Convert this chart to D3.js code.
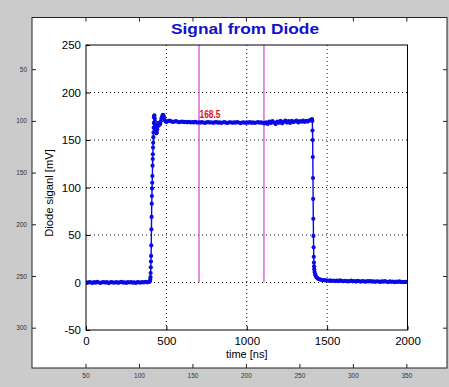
<!DOCTYPE html>
<html>
<head>
<meta charset="utf-8">
<script src="https://cdn.jsdelivr.net/npm/d3@7"></script>
<style>
  html, body { margin: 0; padding: 0; background: #cbcbcb; }
  svg { display: block; font-family: "Liberation Sans", Arial, sans-serif; }
</style>
</head>
<body>
<div id="chart"></div>

<script>
// samples as [time ns, signal mV]
const baselineSamples = [
  [0,0.2],[10,-0.3],[20,0.4],[30,0.1],[40,-0.5],[50,0.3],[60,-0.2],[70,0.6],[80,0.0],[90,-0.4],
  [100,0.2],[110,0.5],[120,-0.1],[130,0.3],[140,-0.6],[150,0.1],[160,0.4],[170,-0.2],[180,0.0],[190,0.3],
  [200,-0.3],[210,0.2],[220,0.6],[230,-0.1],[240,0.1],[250,-0.4],[260,0.3],[270,0.0],[280,0.5],[290,-0.2],
  [300,0.2],[310,-0.5],[320,0.4],[330,0.1],[340,-0.1],[350,0.3],[360,0.0],[370,0.6],[380,0.2],[390,0.5],
  [395,0.8],[398,1.5]
];
const riseSamples = [
  [400,3],[401,5.6],[402,10],[403,16],[404,22],[405,28],[406,39],[407,56],[408,69],[409,83],
  [410,91],[411,99],[412,105],[413,112],[414,123],[415,130],[416,135],[417,142],[418,147],[419,153],
  [420,158],[421,163],[422,168],[423,174],[425,176],[427,173],[429,170],[431,166],[433,162],[435,159],
  [437,157],[440,158],[443,161],[446,164],[449,167],[452,168],[455,167],[458,166],[462,167],[466,170],
  [470,173],[474,175],[478,176.5],[482,176],[486,173.5],[490,171],[495,169.5],[500,169]
];
const plateauSamples = [
  [510,169.8],[520,170.3],[530,169.6],[540,169.0],[550,169.4],[560,169.9],[570,169.2],[580,168.7],[590,169.1],[600,169.5],
  [610,168.8],[620,169.2],[630,168.6],[640,169.0],[650,168.4],[660,168.9],[670,168.5],[680,169.1],[690,168.3],[700,168.7],
  [710,168.2],[720,168.8],[730,168.4],[740,168.0],[750,168.6],[760,168.9],[770,168.3],[780,168.7],[790,168.1],[800,168.5],
  [810,168.9],[820,168.2],[830,168.6],[840,168.0],[850,168.4],[860,168.8],[870,168.3],[880,167.9],[890,168.5],[900,168.7],
  [910,168.1],[920,168.6],[930,168.2],[940,168.9],[950,168.4],[960,167.8],[970,168.3],[980,168.7],[990,168.0],[1000,168.5],
  [1010,168.2],[1020,168.8],[1030,168.1],[1040,168.6],[1050,167.9],[1060,168.4],[1070,168.9],[1080,168.2],[1090,168.6],[1100,168.0],
  [1110,167.4],[1120,168.6],[1130,166.9],[1140,169.3],[1150,167.8],[1160,170.0],[1170,168.2],[1180,166.8],[1190,169.5],[1200,168.1],
  [1210,170.2],[1220,167.6],[1230,169.0],[1240,170.4],[1250,168.3],[1260,169.8],[1270,167.9],[1280,170.1],[1290,168.9],[1300,169.6],
  [1310,170.3],[1320,168.5],[1330,170.0],[1340,169.2],[1350,170.5],[1360,169.0],[1370,170.2],[1380,169.4],[1390,170.6],[1400,170.8]
];
const fallSamples = [
  [1403,171.5],[1406,172],[1408,170],[1409,160],[1410,150],[1411,132],[1412,110],[1413,88],[1414,67],[1415,49],
  [1416,37],[1417,27],[1418,21],[1419,17],[1420,14],[1422,11],[1425,9],[1428,7.5],[1432,6],[1437,5],
  [1443,4],[1450,3.5],[1460,3],[1470,2.6],[1480,2.4],[1490,2.2]
];
const tailSamples = [
  [1500,2.1],[1510,1.8],[1520,2.3],[1530,1.6],[1540,2.0],[1550,1.5],[1560,1.9],[1570,1.4],[1580,2.2],[1590,1.7],
  [1600,1.3],[1610,1.8],[1620,1.5],[1630,1.1],[1640,1.6],[1650,1.9],[1660,1.2],[1670,1.4],[1680,1.0],[1690,1.7],
  [1700,1.3],[1710,0.9],[1720,1.5],[1730,1.2],[1740,0.8],[1750,1.4],[1760,1.1],[1770,1.6],[1780,0.9],[1790,1.2],
  [1800,0.7],[1810,1.3],[1820,1.0],[1830,0.6],[1840,1.2],[1850,0.9],[1860,1.4],[1870,0.8],[1880,0.5],[1890,1.1],
  [1900,0.7],[1910,1.0],[1920,0.4],[1930,0.9],[1940,0.6],[1950,1.2],[1960,0.5],[1970,0.8],[1980,0.3],[1990,0.7],
  [2000,0.5]
];

// two cursor lines and the plateau reading
const cursorTimes = [703, 1107];
const plateauLabel = "168.5";
const plateauLevel = 168.5;

const xTicks = [0, 500, 1000, 1500, 2000];
const yTicks = [-50, 0, 50, 100, 150, 200, 250];
const xGrid = [500, 1000, 1500];
const yGrid = [0, 50, 100, 150, 200];

// pixel ruler round the screenshot
const outerXTicks = [50, 100, 150, 200, 250, 300, 350];
const outerYTicks = [50, 100, 150, 200, 250, 300];

const title = "Signal from Diode";
const xLabel = "time [ns]";
const yLabel = "Diode siganl [mV]";

const samples = baselineSamples.concat(riseSamples, plateauSamples, fallSamples, tailSamples);
const plain = d => String(d);

const width = 449, height = 387;
const svg = d3.select("#chart").append("svg")
  .attr("width", width)
  .attr("height", height);

svg.append("rect").attr("width", width).attr("height", height).attr("fill", "#cbcbcb");

// outer figure frame
const ox = d3.scaleLinear().domain([0, 388]).range([32, 447]);
const oy = d3.scaleLinear().domain([0, 339]).range([17.5, 368]);

svg.append("rect")
  .attr("x", ox(0)).attr("y", oy(0))
  .attr("width", ox(388) - ox(0)).attr("height", oy(339) - oy(0))
  .attr("fill", "#fff").attr("stroke", "#222").attr("stroke-width", 1);

function styleOuter(g) {
  g.select(".domain").remove();
  g.selectAll("line").attr("stroke", "#222");
  g.selectAll("text").attr("font-size", "6.5px").attr("fill", "#333").attr("font-family", "Liberation Sans, Arial, sans-serif");
}
svg.append("g").attr("transform", `translate(0,${oy(339)})`)
  .call(d3.axisBottom(ox).tickValues(outerXTicks).tickSize(-4).tickPadding(5).tickFormat(plain))
  .call(styleOuter);
svg.append("g").attr("transform", `translate(0,${oy(0)})`)
  .call(d3.axisTop(ox).tickValues(outerXTicks).tickSize(-4).tickFormat(""))
  .call(styleOuter);
svg.append("g").attr("transform", `translate(${ox(0)},0)`)
  .call(d3.axisLeft(oy).tickValues(outerYTicks).tickSize(-4).tickPadding(5).tickFormat(plain))
  .call(styleOuter);
svg.append("g").attr("transform", `translate(${ox(388)},0)`)
  .call(d3.axisRight(oy).tickValues(outerYTicks).tickSize(-4).tickFormat(""))
  .call(styleOuter);

// inner plot
const x = d3.scaleLinear().domain([0, 2000]).range([86, 407.5]);
const y = d3.scaleLinear().domain([-50, 250]).range([330, 45]);

svg.append("rect")
  .attr("x", x(0)).attr("y", y(250))
  .attr("width", x(2000) - x(0)).attr("height", y(-50) - y(250))
  .attr("fill", "#fff");

// dotted grid
svg.append("g").selectAll("line").data(xGrid).join("line")
  .attr("x1", d => x(d)).attr("x2", d => x(d))
  .attr("y1", y(-50)).attr("y2", y(250))
  .attr("stroke", "#111").attr("stroke-width", 1).attr("stroke-dasharray", "1,3");
svg.append("g").selectAll("line").data(yGrid).join("line")
  .attr("x1", x(0)).attr("x2", x(2000))
  .attr("y1", d => y(d)).attr("y2", d => y(d))
  .attr("stroke", "#111").attr("stroke-width", 1).attr("stroke-dasharray", "1,3");

function styleInner(g) {
  g.select(".domain").remove();
  g.selectAll("line").attr("stroke", "#000");
  g.selectAll("text").attr("font-size", "11.5px").attr("fill", "#000").attr("font-family", "Liberation Sans, Arial, sans-serif");
}
svg.append("g").attr("transform", `translate(0,${y(-50)})`)
  .call(d3.axisBottom(x).tickValues(xTicks).tickSize(-4).tickPadding(7).tickFormat(plain))
  .call(styleInner);
svg.append("g").attr("transform", `translate(${x(0)},0)`)
  .call(d3.axisLeft(y).tickValues(yTicks).tickSize(-4).tickPadding(5).tickFormat(plain))
  .call(styleInner);

// cursor lines
svg.append("g").selectAll("line").data(cursorTimes).join("line")
  .attr("x1", d => x(d)).attr("x2", d => x(d))
  .attr("y1", y(0)).attr("y2", y(250))
  .attr("stroke", "#cc44cc").attr("stroke-width", 1.2);

// trace
svg.append("defs").append("clipPath").attr("id", "plot-clip")
  .append("rect")
  .attr("x", x(0)).attr("y", y(250))
  .attr("width", x(2000) - x(0)).attr("height", y(-50) - y(250));

const trace = svg.append("g").attr("clip-path", "url(#plot-clip)");
trace.append("path")
  .datum(samples)
  .attr("fill", "none")
  .attr("stroke", "#0a0ae6")
  .attr("stroke-width", 1.4)
  .attr("d", d3.line().x(d => x(d[0])).y(d => y(d[1])));
trace.selectAll("circle").data(samples).join("circle")
  .attr("cx", d => x(d[0]))
  .attr("cy", d => y(d[1]))
  .attr("r", 2.1)
  .attr("fill", "#0a0ae6");

// axes box on top
svg.append("rect")
  .attr("x", x(0)).attr("y", y(250))
  .attr("width", x(2000) - x(0)).attr("height", y(-50) - y(250))
  .attr("fill", "none").attr("stroke", "#000").attr("stroke-width", 1);

// plateau reading
svg.append("text")
  .attr("x", x(cursorTimes[0]) + 0.5)
  .attr("y", y(plateauLevel) - 4.5)
  .attr("font-size", "11px").attr("font-weight", "bold")
  .attr("fill", "#dd1111")
  .attr("textLength", 21).attr("lengthAdjust", "spacingAndGlyphs")
  .text(plateauLabel);

// title and labels
svg.append("text")
  .attr("x", 245).attr("y", 33.5)
  .attr("text-anchor", "middle")
  .attr("font-size", "15px").attr("font-weight", "bold")
  .attr("fill", "#1111cc")
  .attr("textLength", 148).attr("lengthAdjust", "spacingAndGlyphs")
  .text(title);

svg.append("text")
  .attr("x", (x(0) + x(2000)) / 2).attr("y", 358)
  .attr("text-anchor", "middle")
  .attr("font-size", "11px").attr("fill", "#000")
  .text(xLabel);

svg.append("text")
  .attr("transform", "translate(52.5,193) rotate(-90)")
  .attr("text-anchor", "middle")
  .attr("font-size", "11.2px").attr("fill", "#000")
  .text(yLabel);
</script>
</body>
</html>
